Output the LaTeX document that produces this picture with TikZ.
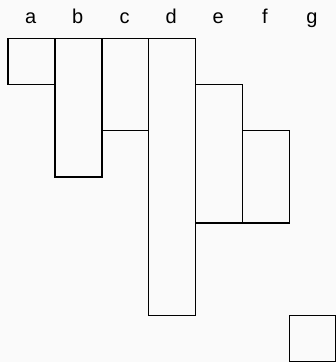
\documentclass[tikz,border=0pt]{standalone}
\usepackage{fontspec}
\setmainfont{Liberation Sans}
\usetikzlibrary{positioning}

\tikzset{
  cell/.style={draw=black, line width=1.5pt, inner sep=0pt, minimum width=46.85pt, anchor=north west},
  head/.style={font=\fontsize{20}{22}\selectfont, anchor=base, inner sep=0pt}
}

\begin{document}
\begin{tikzpicture}[x=1pt, y=-1pt]
    \fill[black!2] (0,0) rectangle (336,362);
    \useasboundingbox (0,0) rectangle (336,362);

    % column heads
    \node[head] (heada) at (30.8,23) {a};
    \node[head] (headb) at (77.6,23) {b};
    \node[head] (headc) at (124.5,23) {c};
    \node[head] (headd) at (171.3,23) {d};
    \node[head] (heade) at (218.2,23) {e};
    \node[head] (headf) at (265.0,23) {f};
    \node[head] (headg) at (311.9,23) {g};

    % boxes
    \node[cell, minimum height=46.2pt] (boxa) at (7.4,37.5) {};
    \node[cell, minimum height=138.6pt] (boxb) at (54.25,37.5) {};
    \node[cell, minimum height=92.4pt] (boxc) at (101.1,37.5) {};
    \node[cell, minimum height=277.2pt] (boxd) at (147.95,37.5) {};
    \node[cell, minimum height=138.6pt] (boxe) at (194.8,83.7) {};
    \node[cell, minimum height=92.4pt] (boxf) at (241.65,129.9) {};
    \node[cell, minimum height=46.2pt] (boxg) at (288.5,314.7) {};
\end{tikzpicture}
\end{document}
